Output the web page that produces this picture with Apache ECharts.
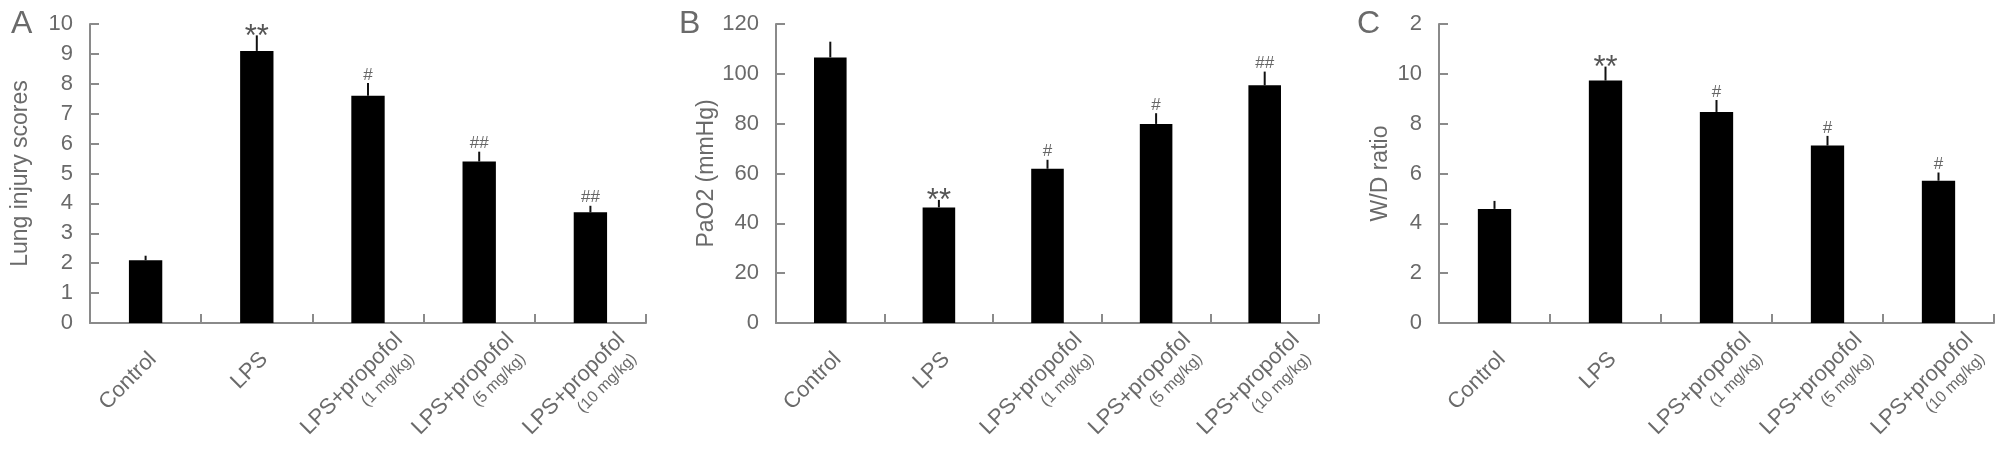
<!DOCTYPE html>
<html>
<head>
<meta charset="utf-8">
<script src="https://cdn.jsdelivr.net/npm/echarts@6/dist/echarts.min.js"></script>
<style>
  html, body { margin: 0; padding: 0; background: #fff; }
  #chart { width: 2008px; height: 472px; }
</style>
</head>
<body>
<div id="chart"></div>
<script>
// ---------- data ----------
const catMain = ['Control', 'LPS', 'LPS+propofol', 'LPS+propofol', 'LPS+propofol'];
const catDose = ['', '', '(1 mg/kg)', '(5 mg/kg)', '(10 mg/kg)'];

const lungScores = [2.1, 9.1, 7.6, 5.4, 3.7];
const lungErr    = [0.15, 0.52, 0.43, 0.33, 0.22];
const lungMarks  = ['', '**', '#', '##', '##'];
const lungTicks  = ['0', '1', '2', '3', '4', '5', '6', '7', '8', '9', '10'];

const paO2       = [106.6, 46.4, 61.9, 79.9, 95.4];
const paO2Err    = [6.3, 3.0, 3.6, 4.3, 5.5];
const paO2Marks  = ['', '**', '#', '#', '##'];
const paO2Ticks  = ['0', '20', '40', '60', '80', '100', '120'];

const wdRatio    = [4.58, 9.73, 8.47, 7.12, 5.71];
const wdErr      = [0.32, 0.56, 0.48, 0.39, 0.33];
const wdMarks    = ['', '**', '#', '#', '#'];
const wdTicks    = ['0', '2', '4', '6', '8', '10', '2'];

const panelLetters = ['A', 'B', 'C'];
const yNames = ['Lung injury scores', 'PaO2 (mmHg)', 'W/D ratio'];

// ---------- style ----------
const FONT = 'Liberation Sans, Arial, sans-serif';
const TEXT = '#6a6a6a';
const AXIS = '#8a8a8a';

const grids = [
  { left: 90, top: 24, width: 556, height: 299 },
  { left: 776, top: 24, width: 543, height: 299 },
  { left: 1439, top: 24, width: 555, height: 299 }
];
const letterPos = [[11, 8], [679, 8], [1357, 8]];
const nameGaps = [58, 58, 47];
const yMax = [10, 120, 12];
const yInt = [1, 20, 2];
const tickLabels = [lungTicks, paO2Ticks, wdTicks];
const values = [lungScores, paO2, wdRatio];
const errs = [lungErr, paO2Err, wdErr];
const marks = [lungMarks, paO2Marks, wdMarks];

const SHIFT = 28;

function xLabel(value, idx) {
  if (catDose[idx]) {
    return '{c|' + catMain[idx] + '}\n{b|' + catDose[idx] + '}';
  }
  return '{a|' + catMain[idx] + '}{s| }';
}

function errSeries(k) {
  const mk = marks[k];
  return {
    type: 'custom',
    xAxisIndex: k,
    yAxisIndex: k,
    z: 5,
    data: values[k].map((v, i) => [i, v, errs[k][i]]),
    renderItem: function (params, api) {
      const i = api.value(0), v = api.value(1), e = api.value(2);
      const p0 = api.coord([i, v]);
      const p1 = api.coord([i, v + e]);
      const children = [{
        type: 'line',
        shape: { x1: p0[0], y1: p0[1], x2: p1[0], y2: p1[1] },
        style: { stroke: '#111', lineWidth: 2 }
      }];
      const m = mk[params.dataIndex];
      if (m) {
        const star = m.indexOf('*') >= 0;
        children.push({
          type: 'text',
          style: {
            text: m,
            x: p1[0],
            y: star ? p1[1] + 2 : p1[1] - 8,
            align: 'center',
            verticalAlign: 'middle',
            fontSize: star ? 31 : 17,
            fontFamily: FONT,
            fill: star ? '#555' : '#666'
          }
        });
      }
      return { type: 'group', children: children };
    }
  };
}

const option = {
  animation: false,
  backgroundColor: '#fff',
  title: panelLetters.map((t, k) => ({
    text: t,
    left: letterPos[k][0],
    top: letterPos[k][1],
    padding: 0,
    textStyle: { fontSize: 32, fontWeight: 'normal', color: TEXT, fontFamily: FONT }
  })),
  grid: grids,
  xAxis: grids.map((g, k) => ({
    type: 'category',
    gridIndex: k,
    data: catMain,
    boundaryGap: true,
    axisLine: { show: true, lineStyle: { color: AXIS, width: 2 } },
    axisTick: { show: true, inside: true, length: 9, interval: 0, lineStyle: { color: AXIS, width: 2 } },
    axisLabel: {
      interval: 0,
      rotate: 45,
      margin: 22,
      verticalAlign: 'top',
      padding: [0, -SHIFT, 0, 0],
      formatter: xLabel,
      color: TEXT,
      fontFamily: FONT,
      rich: {
        a: { fontSize: 22, color: TEXT, fontFamily: FONT, lineHeight: 26 },
        c: { fontSize: 22, color: TEXT, fontFamily: FONT, lineHeight: 26, padding: [6, 0, 0, 0] },
        b: { fontSize: 16, color: TEXT, fontFamily: FONT, lineHeight: 20, padding: [6, 5, 0, 0] },
        s: { width: SHIFT + 2.5, fontSize: 22, lineHeight: 26 }
      }
    },
    splitLine: { show: false }
  })),
  yAxis: grids.map((g, k) => ({
    type: 'value',
    gridIndex: k,
    min: 0,
    max: yMax[k],
    interval: yInt[k],
    name: yNames[k],
    nameLocation: 'middle',
    nameGap: nameGaps[k],
    nameRotate: 90,
    nameTextStyle: { fontSize: 23, color: TEXT, fontFamily: FONT },
    axisLine: { show: true, lineStyle: { color: AXIS, width: 2 } },
    axisTick: { show: true, inside: true, length: 9, lineStyle: { color: AXIS, width: 2 } },
    axisLabel: {
      margin: 17,
      fontSize: 22,
      color: TEXT,
      fontFamily: FONT,
      formatter: function (val) {
        return tickLabels[k][Math.round(val / yInt[k])];
      }
    },
    splitLine: { show: false }
  })),
  series: [0, 1, 2].map(k => ({
    type: 'bar',
    xAxisIndex: k,
    yAxisIndex: k,
    data: values[k],
    barWidth: '30%',
    itemStyle: { color: '#000' }
  })).concat([0, 1, 2].map(errSeries))
};

const chart = echarts.init(document.getElementById('chart'), null, { renderer: 'canvas' });
chart.setOption(option);
</script>
</body>
</html>
